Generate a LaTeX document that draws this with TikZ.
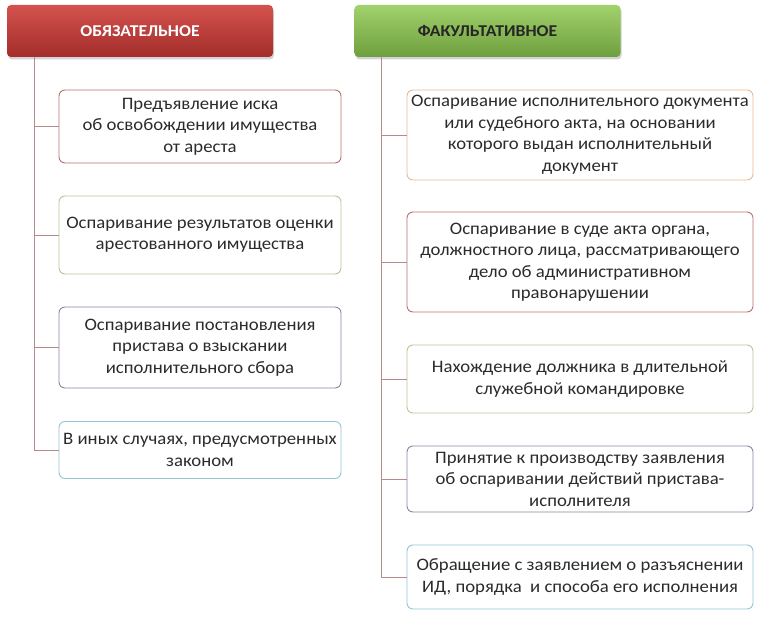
\documentclass[tikz,border=0pt]{standalone}
\usepackage{fontspec}
\setmainfont{Carlito}[FakeStretch=1.07]
\usepackage{tikz}
\usetikzlibrary{shadows}
\definecolor{txtgray}{HTML}{2B2B2B}
\definecolor{linecol}{HTML}{B58A8A}
\definecolor{bred}{HTML}{B9716F}
\definecolor{bolive}{HTML}{B9C795}
\definecolor{bpurple}{HTML}{8F84A3}
\definecolor{bblue}{HTML}{92C6D6}
\definecolor{borange}{HTML}{E7B996}
\definecolor{redtop}{HTML}{D4524E}
\definecolor{redmid}{HTML}{BF3A36}
\definecolor{redbot}{HTML}{A32D2A}
\definecolor{greentop}{HTML}{A2D26C}
\definecolor{greenmid}{HTML}{86BD52}
\definecolor{greenbot}{HTML}{6E9F3E}
\tikzstyle{hdr} = [rectangle, rounded corners=4pt, minimum width=266pt, minimum height=52pt, font=\fontsize{16.5}{18}\selectfont\bfseries, drop shadow={opacity=0.35, shadow xshift=1pt, shadow yshift=-2.5pt}]
\tikzstyle{hdrred} = [hdr, top color=redtop, middle color=redmid, bottom color=redbot, text=white]
\tikzstyle{hdrgreen} = [hdr, top color=greentop, middle color=greenmid, bottom color=greenbot, text=black!85]
\tikzstyle{itembox} = [rectangle, rounded corners=6pt, line width=0.9pt, align=center, fill=white, text=txtgray, font=\fontsize{17.5}{21.5}\selectfont, inner sep=0pt]
\tikzstyle{branch} = [draw=linecol, line width=0.8pt]

\begin{document}
\begin{tikzpicture}[x=1pt, y=-1pt]
	\useasboundingbox (0,0) rectangle (760,617);
	% intestazioni
	\node [hdrred] (obl) at (140,31) {ОБЯЗАТЕЛЬНОЕ};
	\node [hdrgreen] (fak) at (487.5,31) {ФАКУЛЬТАТИВНОЕ};

	% colonna sinistra
	\node [itembox, draw=bred, minimum width=282pt, minimum height=73pt] (l1) at (200,126.5)
		{Предъявление иска\\об освобождении имущества\\от ареста};
	\node [itembox, draw=bolive, minimum width=282pt, minimum height=78pt] (l2) at (200,235)
		{Оспаривание результатов оценки\\арестованного имущества};
	\node [itembox, draw=bpurple, minimum width=282pt, minimum height=81pt] (l3) at (200,347.5)
		{Оспаривание постановления\\пристава о взыскании\\исполнительного сбора};
	\node [itembox, draw=bblue, minimum width=282pt, minimum height=57pt] (l4) at (200,450)
		{В иных случаях, предусмотренных\\законом};

	% colonna destra
	\node [itembox, draw=borange, minimum width=346pt, minimum height=90pt] (r1) at (580,135)
		{Оспаривание исполнительного документа\\или судебного акта, на основании\\которого выдан исполнительный\\документ};
	\node [itembox, draw=bred, minimum width=346pt, minimum height=100pt] (r2) at (580,262)
		{Оспаривание в суде акта органа,\\должностного лица, рассматривающего\\дело об административном\\правонарушении};
	\node [itembox, draw=bolive, minimum width=346pt, minimum height=68pt] (r3) at (580,379)
		{Нахождение должника в длительной\\служебной командировке};
	\node [itembox, draw=bpurple, minimum width=346pt, minimum height=66pt] (r4) at (580,479)
		{Принятие к производству заявления\\об оспаривании действий пристава-\\исполнителя};
	\node [itembox, draw=bblue, minimum width=346pt, minimum height=64pt] (r5) at (580,577)
		{Обращение с заявлением о разъяснении\\ИД, порядка\ \ и способа его исполнения};

	% collegamenti
	\coordinate (ltop) at (34,57);
	\coordinate (rtop) at (381,57);
	\draw [branch] (ltop) |- (l4.west);
	\foreach \b in {l1,l2,l3}
		\draw [branch] (ltop |- \b.west) -- (\b.west);
	\draw [branch] (rtop) |- (r5.west);
	\foreach \b in {r1,r2,r3,r4}
		\draw [branch] (rtop |- \b.west) -- (\b.west);
\end{tikzpicture}
\end{document}
